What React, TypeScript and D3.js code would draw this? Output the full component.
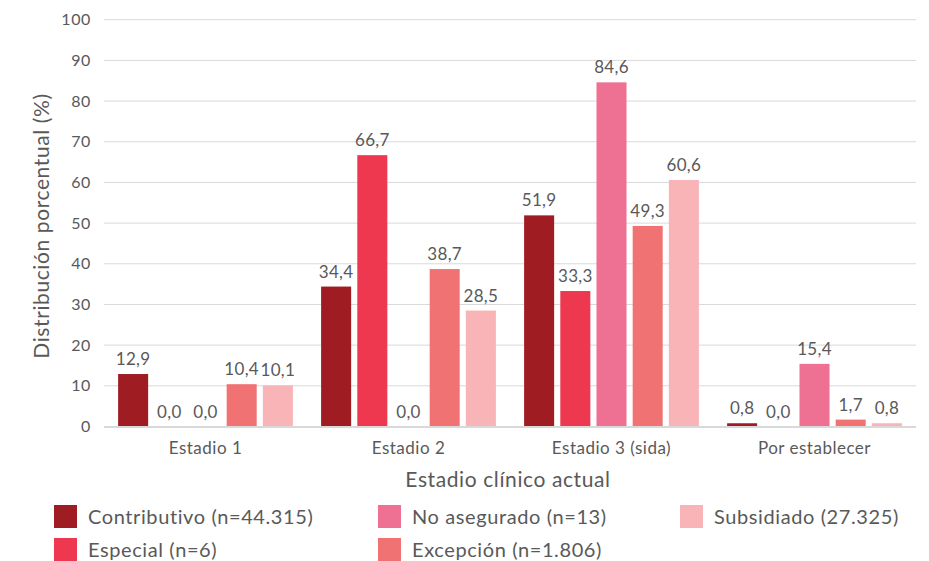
import React from "react";
import * as d3 from "d3";

const categories = ["Estadio 1", "Estadio 2", "Estadio 3 (sida)", "Por establecer"];
const seriesNames = ["Contributivo", "Especial", "No asegurado", "Excepción", "Subsidiado"];
const legendLabels = [
  "Contributivo (n=44.315)",
  "Especial (n=6)",
  "No asegurado (n=13)",
  "Excepción (n=1.806)",
  "Subsidiado (27.325)",
];
const colors = ["#9E1C22", "#EE3850", "#EE7194", "#F07272", "#F8B4B6"];
const contributivo = [12.9, 34.4, 51.9, 0.8];
const especial = [0.0, 66.7, 33.3, 0.0];
const noAsegurado = [0.0, 0.0, 84.6, 15.4];
const excepcion = [10.4, 38.7, 49.3, 1.7];
const subsidiado = [10.1, 28.5, 60.6, 0.8];
const yTicks = [0, 10, 20, 30, 40, 50, 60, 70, 80, 90, 100];

const seriesValues = [contributivo, especial, noAsegurado, excepcion, subsidiado];

const W = 929;
const H = 561;
const FONT = "Lato, 'Noto Sans', sans-serif";
const TXT = "#595959";

export default function App() {
  const left = 104;
  const right = 916;
  const top = 19.7;
  const bottom = 426.5;
  const x0 = d3.scaleBand<string>().domain(categories).range([left, right]).paddingInner(0).paddingOuter(0);
  const x1 = d3
    .scaleBand<string>()
    .domain(seriesNames)
    .range([0, x0.bandwidth()])
    .paddingInner(0.17)
    .paddingOuter(0.39);
  const y = d3.scaleLinear().domain([0, 100]).range([bottom, top]);
  const fmt = (v: number) => v.toFixed(1).replace(".", ",");

  const legendPos = [
    [54, 505],
    [54, 538],
    [378, 505],
    [378, 538],
    [680, 505],
  ];

  return (
    <svg width={W} height={H} style={{ position: "absolute", left: 0, top: 0 }} fontFamily={FONT}>
      <rect width={W} height={H} fill="#fff" />
      {yTicks.map((t) => (
        <g key={t}>
          {t > 0 && <line x1={left} x2={right} y1={y(t)} y2={y(t)} stroke="#d9d9d9" strokeWidth={1} />}
          <text x={91} y={y(t)} dy="0.35em" textAnchor="end" fontSize={16} letterSpacing={0.6} fill={TXT}>
            {t}
          </text>
        </g>
      ))}
      {seriesNames.map((s, si) =>
        categories.map((c, ci) => {
          const v = seriesValues[si][ci];
          const bx = (x0(c) as number) + (x1(s) as number);
          const bw = x1.bandwidth();
          return (
            <g key={s + c}>
              <rect x={bx} y={y(v)} width={bw} height={bottom - y(v)} fill={colors[si]} />
              <text x={bx + bw / 2} y={y(v) - 9} textAnchor="middle" fontSize={17} letterSpacing={0.3} fill={TXT}>
                {fmt(v)}
              </text>
            </g>
          );
        })
      )}
      <line x1={left} x2={right} y1={bottom + 0.5} y2={bottom + 0.5} stroke="#d9d9d9" strokeWidth={2} />
      {categories.map((c) => (
        <text
          key={c}
          x={(x0(c) as number) + x0.bandwidth() / 2}
          y={454}
          textAnchor="middle"
          fontSize={17}
          letterSpacing={0.5}
          fill={TXT}
        >
          {c}
        </text>
      ))}
      <text x={508} y={487} textAnchor="middle" fontSize={21} letterSpacing={0.6} fill={TXT}>
        Estadio clínico actual
      </text>
      <text
        transform={`translate(49, 226) rotate(-90)`}
        textAnchor="middle"
        fontSize={21}
        letterSpacing={0.6}
        fill={TXT}
      >
        Distribución porcentual (%)
      </text>
      {legendLabels.map((l, i) => (
        <g key={l} transform={`translate(${legendPos[i][0]}, ${legendPos[i][1]})`}>
          <rect width={23} height={23} fill={colors[i]} />
          <text x={34} y={12} dy="0.35em" fontSize={20} letterSpacing={0.6} fill={TXT}>
            {l}
          </text>
        </g>
      ))}
    </svg>
  );
}
